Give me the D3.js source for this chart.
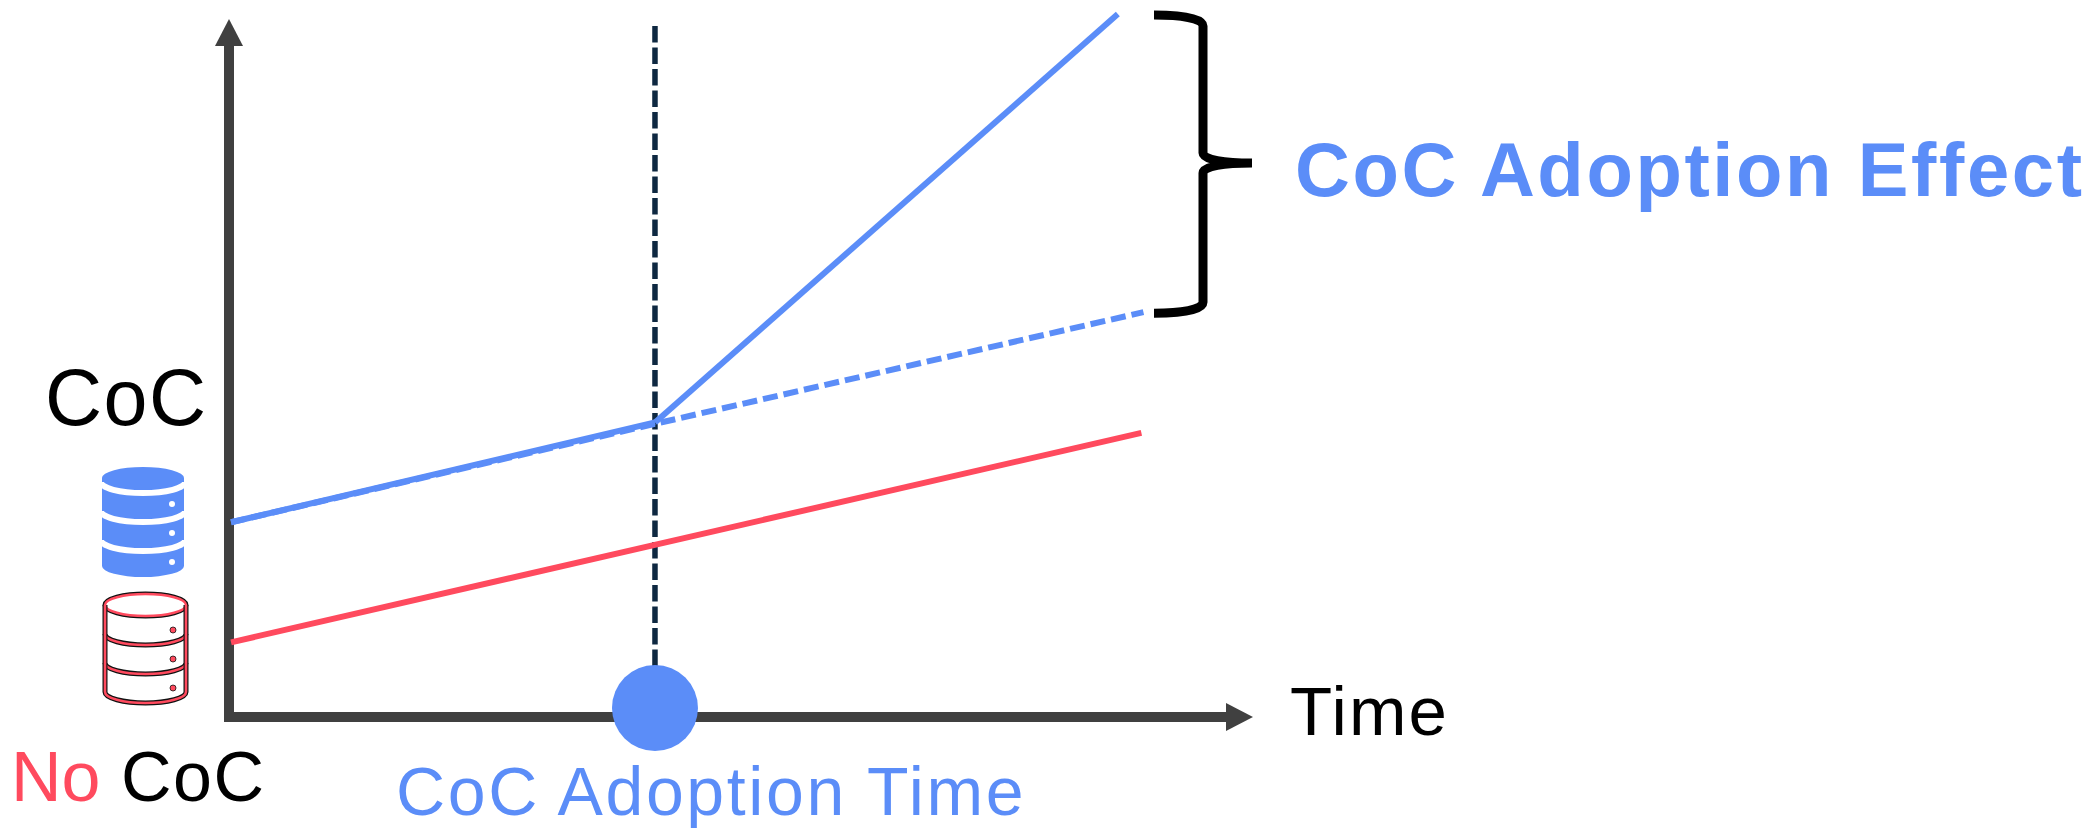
<!DOCTYPE html>
<html>
<head>
<meta charset="utf-8">
<title>CoC Adoption Effect</title>
<script src="https://cdn.jsdelivr.net/npm/d3@7"></script>
<style>
  html, body { margin: 0; padding: 0; background: #fff; }
  svg { display: block; }
  text { font-family: "Liberation Sans", Arial, sans-serif; }
</style>
</head>
<body>
<div id="chart"></div>
<script>
const adoptionTime = 41.6;
const cocSolid = [[0.2, 27.9], [adoptionTime, 42.2], [86.8, 100.7]];
const cocCounterfactual = [[0.2, 27.9], [adoptionTime, 42], [89.3, 58]];
const noCocLine = [[0.2, 10.7], [89.1, 40.7]];
const effectRange = [58, 100];

const blue = "#5b8df8";
const red = "#ff4a5e";
const grey = "#404040";
const navy = "#0e2841";

const width = 2096;
const height = 828;

const svg = d3.select("#chart").append("svg")
  .attr("width", width)
  .attr("height", height)
  .attr("viewBox", `0 0 ${width} ${height}`);

const x = d3.scaleLinear().domain([0, 100]).range([229, 1253]);
const y = d3.scaleLinear().domain([0, 100]).range([717, 19]);

const line = d3.line().x(d => x(d[0])).y(d => y(d[1]));

// Axes, no ticks, only the heavy domain lines
const xAxis = svg.append("g")
  .attr("transform", `translate(0,${y(0)})`)
  .call(d3.axisBottom(x).tickValues([]).tickSizeOuter(0));
const yAxis = svg.append("g")
  .attr("transform", `translate(${x(0)},0)`)
  .call(d3.axisLeft(y).tickValues([]).tickSizeOuter(0));
[xAxis, yAxis].forEach(a => a.select(".domain")
  .attr("stroke", grey)
  .attr("stroke-width", 10)
  .attr("stroke-linecap", "square"));
xAxis.select(".domain").attr("d", `M${x(0)},0V0H${x(97.4)}`);
yAxis.select(".domain").attr("d", `M0,${y(0)}V${y(96.2)}`);

// Arrow heads
svg.append("path")
  .attr("fill", grey)
  .attr("d", `M${x(100)},${y(0)}l-27,-14v28z`);
svg.append("path")
  .attr("fill", grey)
  .attr("d", `M${x(0)},${y(100)}l-14,27h28z`);

// Adoption marker
svg.append("path")
  .attr("fill", "none")
  .attr("stroke", navy)
  .attr("stroke-width", 5.5)
  .attr("stroke-dasharray", "16.5,5")
  .attr("d", line([[adoptionTime, 99], [adoptionTime, 7]]));

// Trend lines
svg.append("path")
  .attr("fill", "none")
  .attr("stroke", red)
  .attr("stroke-width", 6)
  .attr("d", line(noCocLine));
svg.append("path")
  .attr("fill", "none")
  .attr("stroke", blue)
  .attr("stroke-width", 6)
  .attr("d", line(cocSolid.slice(0, 2)));
svg.append("path")
  .attr("fill", "none")
  .attr("stroke", blue)
  .attr("stroke-width", 6)
  .attr("d", line(cocSolid.slice(1)));
svg.append("path")
  .attr("fill", "none")
  .attr("stroke", blue)
  .attr("stroke-width", 6)
  .attr("stroke-dasharray", "15,6")
  .attr("d", line(cocCounterfactual));

svg.append("circle")
  .attr("cx", x(adoptionTime))
  .attr("cy", y(0) - 9)
  .attr("r", 43)
  .attr("fill", blue);

// Curly brace spanning the effect
const braceTop = y(effectRange[1]) - 4;
const braceBottom = y(effectRange[0]) + 1;
const braceMid = 163;
svg.append("path")
  .attr("fill", "none")
  .attr("stroke", "#000")
  .attr("stroke-width", 9)
  .attr("d", `M1154,${braceTop}
    C1180,${braceTop} 1203,${braceTop + 3} 1203,${braceTop + 11}
    V${braceMid - 10}
    C1203,${braceMid - 3} 1225,${braceMid} 1252,${braceMid}
    C1225,${braceMid} 1203,${braceMid + 3} 1203,${braceMid + 10}
    V${braceBottom - 11}
    C1203,${braceBottom - 3} 1180,${braceBottom} 1154,${braceBottom}`);

// Database icons, three stacked discs
function drawBlueDatabase(g, w, h) {
  const rx = w / 2;
  const ry = 11;
  const step = 29;
  g.append("path")
    .attr("fill", blue)
    .attr("d", `M0,${ry}A${rx},${ry} 0 0 1 ${w},${ry}V${h - ry}A${rx},${ry} 0 0 1 0,${h - ry}Z`);
  d3.range(3).forEach(i => {
    const y0 = 15 + i * step;
    g.append("path")
      .attr("fill", "none")
      .attr("stroke", "#fff")
      .attr("stroke-width", 6)
      .attr("d", `M-1,${y0}A${rx + 1},${ry} 0 0 0 ${w + 1},${y0}`);
    g.append("circle")
      .attr("cx", w - 12).attr("cy", y0 + 22).attr("r", 3).attr("fill", "#fff");
  });
}

function drawRedDatabase(g, w) {
  const rx = w / 2;
  const ry = 11;
  const step = 29;
  // thin black outline under a red stroke gives the double-line look
  [["#111", 5], [red, 2.6]].forEach(([stroke, sw]) => {
    g.append("ellipse").attr("cx", rx).attr("cy", ry).attr("rx", rx).attr("ry", ry)
      .attr("fill", "#fff").attr("stroke", stroke).attr("stroke-width", sw);
  });
  d3.range(3).forEach(i => {
    const y0 = ry + i * step;
    [["#111", 5], [red, 2.6]].forEach(([stroke, sw]) => {
      g.append("path")
        .attr("fill", "none").attr("stroke", stroke).attr("stroke-width", sw)
        .attr("d", `M0,${y0}V${y0 + step}A${rx},${ry} 0 0 0 ${w},${y0 + step}V${y0}`);
    });
    g.append("circle")
      .attr("cx", w - 13).attr("cy", y0 + 25).attr("r", 3)
      .attr("fill", red).attr("stroke", "#111").attr("stroke-width", 0.8);
  });
}

drawBlueDatabase(svg.append("g").attr("transform", "translate(102,467)"), 82, 110);
drawRedDatabase(svg.append("g").attr("transform", "translate(105,594)"), 81);

// Labels
function label(px, py, size, spacing, color, str, weight) {
  return svg.append("text")
    .attr("x", px)
    .attr("y", py)
    .attr("fill", color)
    .attr("font-size", size)
    .attr("font-weight", weight || "normal")
    .attr("letter-spacing", spacing)
    .text(str);
}

label(45, 425, 79, 1.5, "#000", "CoC");
label(11, 801, 70, 0, red, "No");
label(121, 801, 70, 1.5, "#000", "CoC");
label(1290, 735, 69, 2, "#000", "Time");
label(396, 815, 68, 2.6, blue, "CoC Adoption Time");
label(1295, 196, 76, 2.6, blue, "CoC Adoption Effect", "bold");
</script>
</body>
</html>
